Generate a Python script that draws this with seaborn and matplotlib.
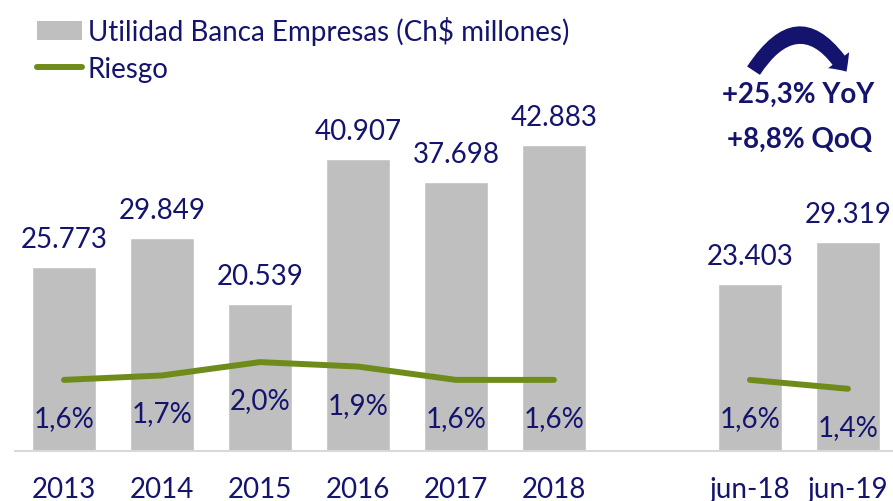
import numpy as np
import pandas as pd
import seaborn as sns
import matplotlib.pyplot as plt
from matplotlib.patches import Patch, FancyArrowPatch
from matplotlib.lines import Line2D

# data
periods = ['2013', '2014', '2015', '2016', '2017', '2018', '', 'jun-18', 'jun-19']
utilidad = [25773, 29849, 20539, 40907, 37698, 42883, np.nan, 23403, 29319]
riesgo = [1.6, 1.7, 2.0, 1.9, 1.6, 1.6, np.nan, 1.6, 1.4]
tramo = ['anual'] * 6 + ['-'] + ['semestre'] * 2

navy = '#14146e'
gris = '#bfbfbf'
verde = '#6f8c1b'

sns.set_style('white')
plt.rcParams['font.family'] = ['Lato', 'DejaVu Sans']

df = pd.DataFrame({'periodo': periods, 'utilidad': utilidad,
                   'riesgo': riesgo, 'tramo': tramo})
df['pos'] = np.arange(len(df))

W, H = 893, 502
fig = plt.figure(figsize=(W / 100, H / 100), dpi=100)
ax = fig.add_axes([15 / W, 50 / H, 878 / W, 400 / H])

sns.barplot(data=df, x='periodo', y='utilidad', order=periods, color=gris,
            width=0.66, saturation=1, ax=ax)
ax.set_xlim(-0.5, 8.46)
ax.set_ylim(0, 56000)

for i, v in enumerate(utilidad):
    if np.isnan(v):
        continue
    ax.annotate(f'{int(v):,}'.replace(',', '.'), (i, v), xytext=(0, 20),
                textcoords='offset pixels', ha='center', va='baseline',
                fontsize=20, color=navy)

ax2 = ax.twinx()
lineas = df.dropna(subset=['riesgo'])
sns.lineplot(data=lineas, x='pos', y='riesgo', units='tramo', estimator=None,
             color=verde, lw=4.3, solid_capstyle='round', ax=ax2, legend=False)
ax2.set_ylim(0, 9.0)
ax2.set_xlim(-0.5, 8.46)

for i, v in enumerate(riesgo):
    if np.isnan(v):
        continue
    ax2.annotate(f'{v:.1f}%'.replace('.', ','), (i, v), xytext=(0, -38),
                 textcoords='offset pixels', ha='center', va='center',
                 fontsize=20, color=navy)

for a in (ax, ax2):
    a.set_xlabel('')
    a.set_ylabel('')
    a.set_yticks([])
    for s in a.spines.values():
        s.set_visible(False)
ax.spines['bottom'].set_visible(True)
ax.spines['bottom'].set_color('#d9d9d9')
ax.spines['bottom'].set_linewidth(1.5)
ax.tick_params(axis='x', length=0, pad=18, labelsize=20, labelcolor=navy)
ax.set_xticks(range(len(periods)))
ax.set_xticklabels(periods)

handles = [Patch(facecolor=gris, edgecolor='none'),
           Line2D([0], [0], color=verde, lw=4.3, solid_capstyle='round')]
fig.legend(handles, ['Utilidad Banca Empresas (Ch$ millones)', 'Riesgo'],
           loc='upper left', bbox_to_anchor=(37 / W, 1 - 17 / H), frameon=False,
           fontsize=20, labelcolor=navy, handlelength=1.62, handletextpad=0.2,
           labelspacing=0.4, borderaxespad=0, borderpad=0)

arrow = FancyArrowPatch((752 / W, 1 - 74 / H), (848 / W, 1 - 75 / H),
                        transform=fig.transFigure,
                        connectionstyle='arc3,rad=-0.8',
                        arrowstyle='simple,head_width=1.9,head_length=1.0,tail_width=1.1',
                        mutation_scale=10, color=navy, lw=0)
fig.patches.append(arrow)
fig.text(798 / W, 1 - 95 / H, '+25,3% YoY', ha='center', va='center',
         fontsize=20, fontweight='bold', color=navy)
fig.text(800 / W, 1 - 140 / H, '+8,8% QoQ', ha='center', va='center',
         fontsize=20, fontweight='bold', color=navy)

fig.savefig('out.png', dpi=100)
